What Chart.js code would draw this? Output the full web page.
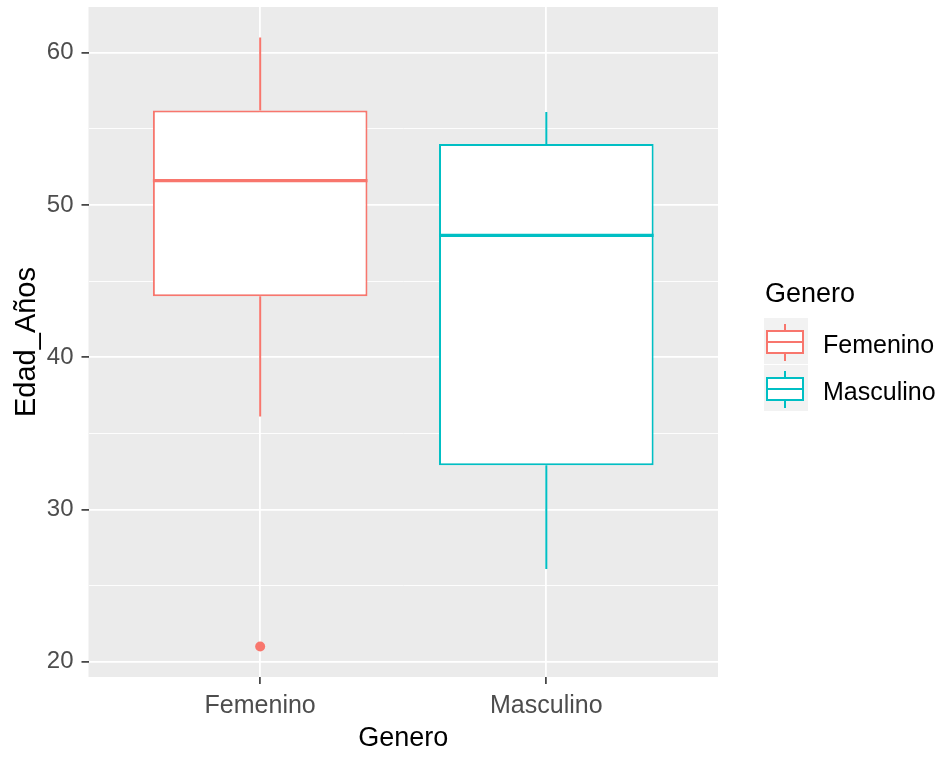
<!DOCTYPE html>
<html><head><meta charset="utf-8">
<script src="https://cdn.jsdelivr.net/npm/chart.js@4.4.1/dist/chart.umd.min.js"></script>
<style>
html,body{margin:0;padding:0;background:#fff;}
#wrap{position:relative;width:938px;height:757px;overflow:hidden;}
#wrap canvas{position:absolute;left:0;top:0;}
.lg{position:absolute;font-family:"Liberation Sans",Arial,sans-serif;line-height:1;white-space:nowrap;}
.key{position:absolute;}
</style></head><body>
<div id="wrap"><canvas id="c"></canvas><div id="legend"></div></div>
<script>
// ---- data ----
const categories = ['Femenino', 'Masculino'];
const lowerWhisker = [36.1, 26.1];
const q1 = [44.0, 32.9];
const median = [51.6, 48.0];
const q3 = [56.2, 54.0];
const upperWhisker = [61.0, 56.1];
const outliers = [[21.0], []];
const yTickLabels = [20, 30, 40, 50, 60];
const legendTitle = 'Genero';
const xTitle = 'Genero';
const yTitle = 'Edad_Años';

// ---- styles ----
const colors = ['#F8766D', '#00BFC4'];
const FONT = '"Liberation Sans", Arial, sans-serif';

const pos = categories.map((c, i) => i + 1);
const allVals = [...lowerWhisker, ...upperWhisker, ...outliers.flat()];
const dMin = Math.min(...allVals), dMax = Math.max(...allVals);
const yPad = (dMax - dMin) * 0.05;
const minorTicks = yTickLabels.slice(0, -1).map((v, i) => (v + yTickLabels[i + 1]) / 2);
const allYTicks = [...yTickLabels, ...minorTicks].sort((a, b) => a - b);
const isMajor = v => yTickLabels.includes(v);

const datasets = [];
datasets.push({
  type: 'bar', label: 'box', order: 1,
  data: categories.map((c, i) => ({ x: pos[i], y: [q1[i], q3[i]] })),
  backgroundColor: '#FFFFFF', borderColor: colors, borderWidth: 2,
  borderSkipped: false, categoryPercentage: 0.75, barPercentage: 1.0
});
categories.forEach((c, i) => {
  datasets.push({
    type: 'line', label: 'whisker ' + c, order: 2,
    data: [{ x: pos[i], y: q3[i] }, { x: pos[i], y: upperWhisker[i] }, { x: pos[i], y: null },
           { x: pos[i], y: q1[i] }, { x: pos[i], y: lowerWhisker[i] }],
    borderColor: colors[i], borderWidth: 2, pointRadius: 0, spanGaps: false, fill: false
  });
  datasets.push({
    type: 'line', label: 'outliers ' + c, order: 0, showLine: false,
    data: outliers[i].map(v => ({ x: pos[i], y: v })),
    pointRadius: 5, pointBackgroundColor: colors[i], pointBorderWidth: 0, pointBorderColor: colors[i]
  });
});

const panelBg = {
  id: 'panelBg',
  beforeDraw(chart) {
    const a = chart.chartArea, ctx = chart.ctx;
    ctx.save(); ctx.fillStyle = '#EBEBEB';
    ctx.fillRect(a.left, a.top, a.right - a.left, a.bottom - a.top);
    ctx.restore();
  }
};
const medians = {
  id: 'medians',
  afterDatasetsDraw(chart) {
    const meta = chart.getDatasetMeta(0);
    const ys = chart.scales.y, ctx = chart.ctx;
    meta.data.forEach((bar, i) => {
      const p = bar.getProps(['x', 'width'], true);
      const py = ys.getPixelForValue(median[i]);
      ctx.save(); ctx.strokeStyle = colors[i]; ctx.lineWidth = 3.4;
      ctx.beginPath(); ctx.moveTo(p.x - p.width / 2, py); ctx.lineTo(p.x + p.width / 2, py); ctx.stroke();
      ctx.restore();
    });
  }
};

new Chart(document.getElementById('c'), {
  type: 'bar',
  data: { datasets },
  plugins: [panelBg, medians],
  options: {
    responsive: true, maintainAspectRatio: false, animation: false, events: [],
    devicePixelRatio: 1,
    layout: { padding: { top: 7, right: 220, bottom: 0, left: 0 } },
    plugins: { legend: { display: false }, tooltip: { enabled: false } },
    scales: {
      x: {
        type: 'linear', offset: false,
        min: pos[0] - 0.6, max: pos[pos.length - 1] + 0.6,
        afterBuildTicks: s => { s.ticks = pos.map(v => ({ value: v })); },
        afterFit: s => { s.height = 80; s.paddingLeft = 0; s.paddingRight = 0; },
        border: { display: false },
        grid: { offset: false, color: '#FFFFFF', lineWidth: 1.8, drawTicks: true, tickLength: 7, tickColor: '#333333', tickWidth: 1.6 },
        ticks: { autoSkip: false, maxRotation: 0, padding: 7, color: '#4D4D4D', font: { family: FONT, size: 25 },
                 callback: (v, i) => categories[i] },
        title: { display: true, text: xTitle, color: '#000000', font: { family: FONT, size: 27, lineHeight: 1.2 }, padding: { top: 0, bottom: 2 } }
      },
      y: {
        type: 'linear', min: dMin - yPad, max: dMax + yPad,
        afterBuildTicks: s => { s.ticks = allYTicks.map(v => ({ value: v })); },
        afterFit: s => { s.width = 88.5; s.paddingTop = 0; s.paddingBottom = 0; },
        border: { display: false },
        grid: {
          color: '#FFFFFF',
          lineWidth: c => isMajor(c.tick.value) ? 1.8 : 0.9,
          drawTicks: true, tickLength: 7,
          tickColor: c => isMajor(c.tick.value) ? '#333333' : 'rgba(0,0,0,0)',
          tickWidth: 1.6
        },
        ticks: { autoSkip: false, padding: 8, color: '#4D4D4D', font: { family: FONT, size: 24 },
                 callback: v => isMajor(v) ? String(v) : '' },
        title: { display: true, text: yTitle, color: '#000000', font: { family: FONT, size: 29, lineHeight: 1.2 }, padding: { top: 10, bottom: 0 } }
      }
    }
  }
});

// ---- legend (HTML) ----
const lg = document.getElementById('legend');
let html = `<div class="lg" style="left:765px;top:280px;font-size:27px;color:#000">${legendTitle}</div>`;
categories.forEach((c, i) => {
  const top = 318 + 47 * i;
  const col = colors[i];
  html += `<svg class="key" style="left:764px;top:${top}px" width="44" height="46">
    <rect x="0" y="0" width="44" height="46" fill="#F2F2F2"/>
    <line x1="21" y1="6" x2="21" y2="13" stroke="${col}" stroke-width="2"/>
    <line x1="21" y1="35" x2="21" y2="43" stroke="${col}" stroke-width="2"/>
    <rect x="3" y="13" width="36" height="22" fill="#FFFFFF" stroke="${col}" stroke-width="2"/>
    <line x1="3" y1="24" x2="39" y2="24" stroke="${col}" stroke-width="2"/>
  </svg>`;
  html += `<div class="lg" style="left:823px;top:${332 + 47 * i}px;font-size:25px;color:#000">${c}</div>`;
});
lg.innerHTML = html;
</script>
</body></html>
